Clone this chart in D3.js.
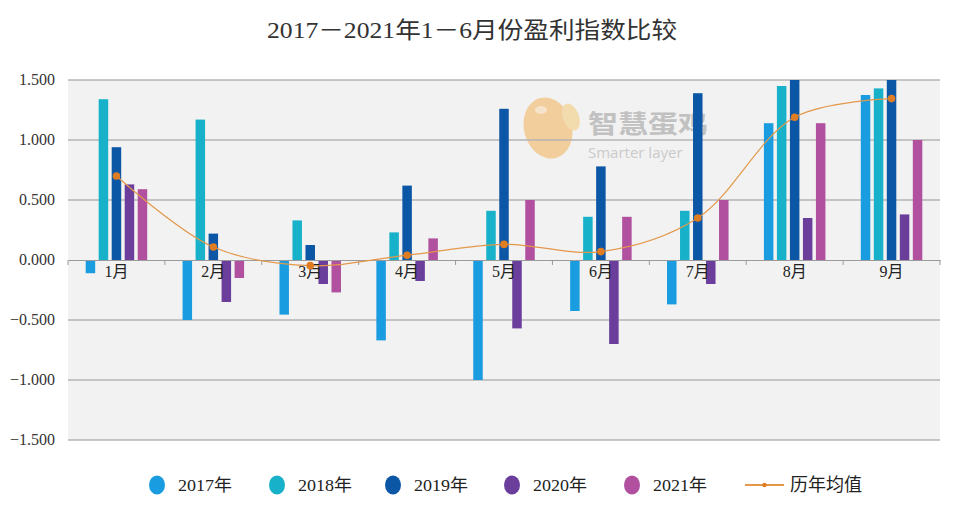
<!DOCTYPE html>
<html><head><meta charset="utf-8">
<script src="https://cdn.jsdelivr.net/npm/d3@7"></script>
<style>
html,body{margin:0;padding:0;background:#fff;}
svg{display:block;}
</style></head>
<body>
<svg id="chart" width="953" height="509"></svg>
<script>
const title = "2017－2021年1－6月份盈利指数比较";
const months = ["1月","2月","3月","4月","5月","6月","7月","8月","9月"];
const years = ["2017年","2018年","2019年","2020年","2021年"];
const v2017 = [-0.11, -0.50, -0.455, -0.67, -1.00, -0.425, -0.37, 1.14, 1.375];
const v2018 = [1.34, 1.17, 0.33, 0.23, 0.41, 0.36, 0.41, 1.45, 1.43];
const v2019 = [0.94, 0.22, 0.125, 0.62, 1.26, 0.78, 1.39, 1.80, 2.40];
const v2020 = [0.63, -0.35, -0.20, -0.175, -0.57, -0.70, -0.20, 0.35, 0.38];
const v2021 = [0.59, -0.15, -0.27, 0.18, 0.50, 0.36, 0.50, 1.14, 1.00];
const avgValues = [0.70, 0.108, -0.047, 0.04, 0.13, 0.07, 0.35, 1.19, 1.345];
const avgLabel = "历年均值";
const yTicks = [1.5, 1.0, 0.5, 0, -0.5, -1.0, -1.5];
const yTickLabels = ["1.500","1.000","0.500","0.000","−0.500","−1.000","−1.500"];
const colors = ["#1a9de0", "#17b2c9", "#0c56a6", "#6b3e9c", "#b0509e"];
const series = [v2017, v2018, v2019, v2020, v2021];

const svg = d3.select("#chart");
const L = 68, R = 940, T = 80, B = 440;
const serif = "'Times New Roman','Liberation Serif','DejaVu Serif','Noto Sans CJK SC',serif";

const x0 = d3.scaleBand().domain(months).range([L, R]);
const x1 = d3.scaleBand().domain(years).range([0, x0.bandwidth()]).paddingInner(0.27).paddingOuter(1.36);
const y = d3.scaleLinear().domain([-1.5, 1.5]).range([B, T]).clamp(true);

// title
svg.append("text").attr("x", 472).attr("y", 38).attr("text-anchor","middle")
  .style("font-family", serif).attr("font-size", 23).attr("fill","#333")
  .attr("textLength", 410).attr("lengthAdjust","spacingAndGlyphs").text(title);

// plot background
svg.append("rect").attr("x", L).attr("y", T).attr("width", R-L).attr("height", B-T).attr("fill","#f2f2f2");

// watermark
const wm = svg.append("g").attr("opacity", 0.85);
wm.append("ellipse").attr("cx", 548).attr("cy", 128).attr("rx", 24).attr("ry", 31)
  .attr("transform","rotate(-15,548,128)").attr("fill","#f1c88e");
wm.append("ellipse").attr("cx", 571).attr("cy", 117).attr("rx", 8).attr("ry", 14)
  .attr("transform","rotate(-20,571,117)").attr("fill","#f3d7a2");
wm.append("ellipse").attr("cx", 541).attr("cy", 110).attr("rx", 6).attr("ry", 4)
  .attr("fill","#f7e2c4");
wm.append("text").attr("x", 588).attr("y", 133).style("font-family","'Noto Sans CJK SC',sans-serif")
  .attr("font-size", 25).attr("font-weight","bold").attr("fill","#b9b9b9")
  .attr("textLength", 120).attr("lengthAdjust","spacingAndGlyphs").text("智慧蛋鸡");
wm.append("text").attr("x", 588).attr("y", 158).style("font-family","'Open Sans',sans-serif")
  .attr("font-size", 15).attr("fill","#c4c4c4").text("Smarter layer");

// gridlines
svg.append("g").selectAll("line").data(yTicks.filter(d => d !== 0)).join("line")
  .attr("x1", L).attr("x2", R).attr("y1", d => y(d)).attr("y2", d => y(d))
  .attr("stroke","#b5b5b5").attr("stroke-width", 1.5);

// y labels
svg.append("g").selectAll("text").data(yTicks).join("text")
  .attr("x", 55).attr("y", d => y(d) + 5).attr("text-anchor","end")
  .style("font-family", serif).attr("font-size", 16).attr("fill","#333")
  .text((d, i) => yTickLabels[i]);

// bars
const gBars = svg.append("g");
months.forEach((m, mi) => {
  years.forEach((yr, si) => {
    const v = series[si][mi];
    gBars.append("rect")
      .attr("x", x0(m) + x1(yr)).attr("width", x1.bandwidth())
      .attr("y", Math.min(y(v), y(0))).attr("height", Math.abs(y(v) - y(0)))
      .attr("fill", colors[si]);
  });
});

// x axis
const xAxis = svg.append("g").attr("transform", `translate(0,${y(0)})`)
  .call(d3.axisBottom(x0).tickSize(0).tickSizeOuter(0));
xAxis.select(".domain").attr("stroke","#9a9a9a").attr("stroke-width",1.2);
xAxis.selectAll(".tick text").style("font-family", serif).attr("font-size", 16).attr("fill","#222").attr("dy","0.9em");
svg.append("g").selectAll("line").data(d3.range(months.length + 1)).join("line")
  .attr("x1", i => L + i * x0.step()).attr("x2", i => L + i * x0.step())
  .attr("y1", y(0)).attr("y2", y(0) + 5).attr("stroke","#9a9a9a");

// average line
const cx = (d, i) => x0(months[i]) + x0.bandwidth() / 2;
const line = d3.line().x(cx).y(d => y(d)).curve(d3.curveCatmullRom.alpha(0.5));
svg.append("path").datum(avgValues).attr("d", line).attr("fill","none")
  .attr("stroke","#e3984a").attr("stroke-width", 1.2);
svg.append("g").selectAll("circle").data(avgValues).join("circle")
  .attr("cx", cx).attr("cy", d => y(d)).attr("r", 3.8).attr("fill","#e07d22");

// legend
const lg = svg.append("g");
const legX = [157, 277, 393, 512, 632];
years.forEach((yr, i) => {
  lg.append("ellipse").attr("cx", legX[i]).attr("cy", 485).attr("rx", 8).attr("ry", 9.5).attr("fill", colors[i]);
  lg.append("text").attr("x", legX[i] + 21).attr("y", 491).style("font-family", serif)
    .attr("font-size", 17).attr("fill","#222").attr("textLength", 54).attr("lengthAdjust","spacingAndGlyphs").text(yr);
});
lg.append("line").attr("x1", 745).attr("x2", 784).attr("y1", 485).attr("y2", 485).attr("stroke","#e3984a").attr("stroke-width", 2);
lg.append("circle").attr("cx", 764.5).attr("cy", 485).attr("r", 2.2).attr("fill","#e07d22");
lg.append("text").attr("x", 790).attr("y", 491).style("font-family", serif)
  .attr("font-size", 18).attr("fill","#222").text(avgLabel);
</script>
</body></html>
